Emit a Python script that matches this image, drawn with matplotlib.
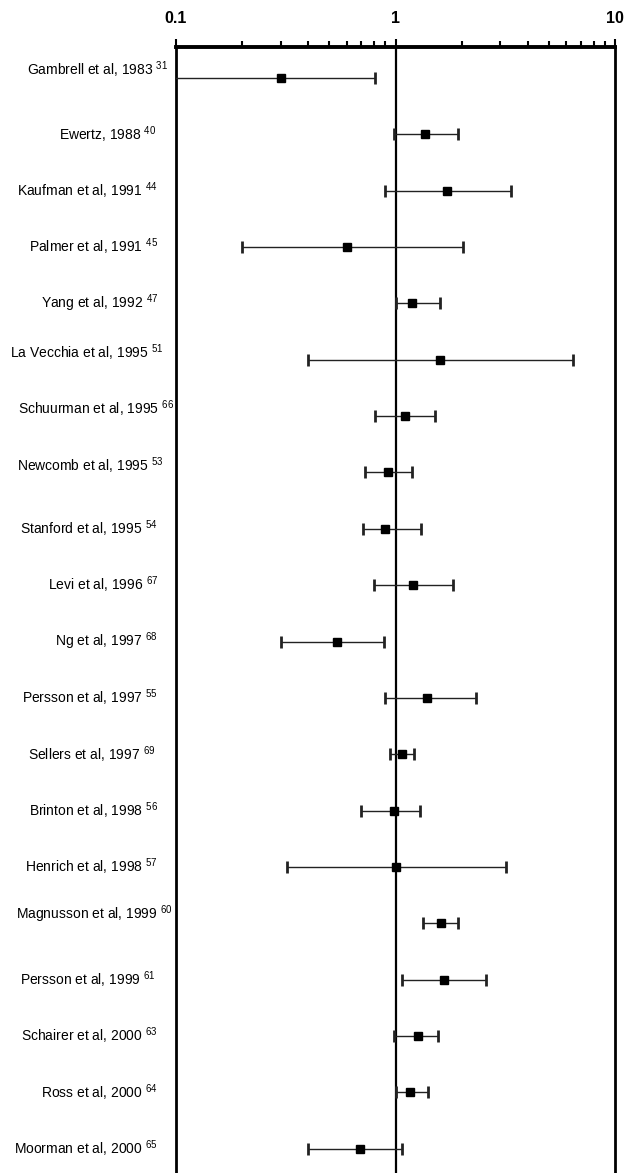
import numpy as np
import matplotlib.pyplot as plt
from matplotlib.transforms import blended_transform_factory

plt.rcParams['font.family'] = ['Liberation Sans', 'DejaVu Sans']
plt.rcParams['mathtext.fontset'] = 'custom'
plt.rcParams['mathtext.rm'] = 'Liberation Sans'

# studies, reference numbers, odds ratios with 95% CI
studies = ["Gambrell et al, 1983", "Ewertz, 1988", "Kaufman et al, 1991",
           "Palmer et al, 1991", "Yang et al, 1992", "La Vecchia et al, 1995",
           "Schuurman et al, 1995", "Newcomb et al, 1995", "Stanford et al, 1995",
           "Levi et al, 1996", "Ng et al, 1997", "Persson et al, 1997",
           "Sellers et al, 1997", "Brinton et al, 1998", "Henrich et al, 1998",
           "Magnusson et al, 1999", "Persson et al, 1999", "Schairer et al, 2000",
           "Ross et al, 2000", "Moorman et al, 2000"]
refs = ["31", "40", "44", "45", "47", "51", "66", "53", "54", "67",
        "68", "55", "69", "56", "57", "60", "61", "63", "64", "65"]
rr = [0.30, 1.36, 1.71, 0.60, 1.19, 1.60, 1.11, 0.92, 0.90, 1.20,
      0.54, 1.39, 1.07, 0.98, 1.00, 1.61, 1.67, 1.27, 1.16, 0.69]
lo = [0.09, 0.98, 0.90, 0.20, 1.00, 0.40, 0.81, 0.73, 0.71, 0.80,
      0.30, 0.90, 0.94, 0.70, 0.32, 1.34, 1.07, 0.98, 1.00, 0.40]
hi = [0.81, 1.92, 3.37, 2.02, 1.60, 6.42, 1.52, 1.19, 1.31, 1.82,
      0.89, 2.32, 1.22, 1.29, 3.20, 1.92, 2.58, 1.57, 1.40, 1.07]

# small nudges for a few labels (points)
label_dx = [10, -2, 0, 0, 0, 5, 15, 5, 0, 0, 0, 0, -2, 0, 0, 14, -2, 0, 0, 0]
label_dy = [8, 0, 0, 0, 0, 7, 7, 6, 0, 0, 0, 0, 0, 0, 0, 9, 0, 0, 0, 0]

rr = np.array(rr)
lo = np.array(lo)
hi = np.array(hi)
y = np.arange(len(studies))

fig = plt.figure(figsize=(6.25, 11.73), dpi=100)
ax = fig.add_axes([0.2816, 0.0, 0.7024, 0.960])

ax.axvline(1, color='black', lw=1.6, zorder=1)
ax.errorbar(rr, y, xerr=[rr - lo, hi - rr], fmt='s', color='black', ms=6,
            ecolor='#222222', elinewidth=1.0, capsize=4, capthick=2, zorder=3)

ax.set_xscale('log')
ax.set_xlim(0.1, 10)
ax.set_ylim(19.43, -0.55)
ax.set_yticks([])

ax.xaxis.tick_top()
ax.set_xticks([0.1, 1, 10])
ax.set_xticklabels(["0.1", "1", "10"], fontweight='bold', fontsize=11.5)
ax.tick_params(axis='x', which='major', direction='out', length=6, width=1.5, pad=9)
ax.tick_params(axis='x', which='minor', direction='out', length=4, width=1.5)

for side in ['left', 'right']:
    ax.spines[side].set_linewidth(2)
ax.spines['top'].set_linewidth(2.8)
ax.spines['bottom'].set_visible(False)

trans = blended_transform_factory(ax.transAxes, ax.transData)
for i, (name, ref) in enumerate(zip(studies, refs)):
    ax.annotate(name + " $^{" + ref + "}$", xy=(-0.041, i), xycoords=trans,
                xytext=(label_dx[i] * 0.75, label_dy[i] * 0.75), textcoords='offset points',
                ha='right', va='center', fontsize=10, annotation_clip=False)

fig.savefig("out.png", dpi=100)
